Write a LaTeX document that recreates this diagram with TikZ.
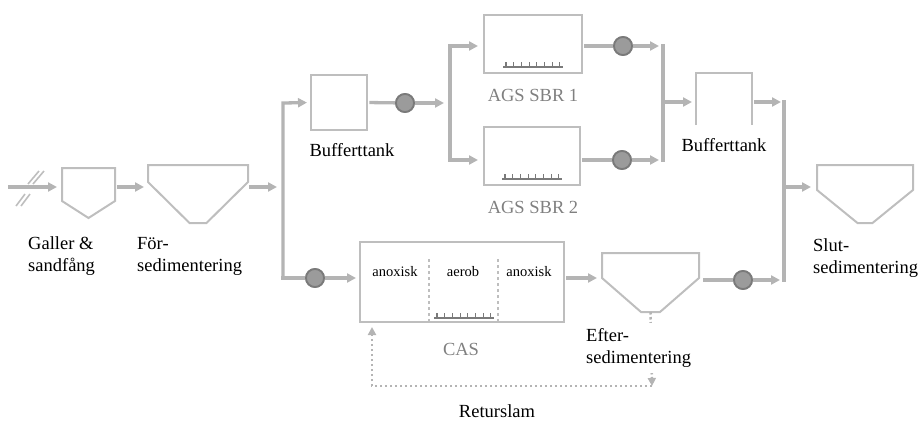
\documentclass[tikz,border=0pt]{standalone}
\usepackage{fontspec}
\setmainfont{Liberation Serif}
\usetikzlibrary{
  arrows.meta,
  positioning,
  calc
}
\definecolor{pipegray}{RGB}{180,180,180}
\definecolor{tankgray}{RGB}{190,190,190}
\definecolor{pumpfill}{RGB}{155,155,155}
\definecolor{pumpedge}{RGB}{122,122,122}
\definecolor{labelgray}{RGB}{128,128,128}
\newcommand{\diffuser}[1]{%
  \draw[diff] ($(#1)+(-30,0)$) -- ($(#1)+(30,0)$);
  \foreach \k in {0,...,7}
    \draw[diff] ($(#1)+({-27+7.7*\k},0)$) -- ++(0,-5);
}

\begin{document}
\begin{tikzpicture}[x=1pt, y=-1pt,
    pipe/.style={draw=pipegray, line width=3.3pt, line cap=rect},
    flow/.style={pipe, -{Triangle[length=9pt, width=9pt]}},
    tank/.style={draw=none, inner sep=0pt, outer sep=0pt},
    box/.style={draw=tankgray, line width=2pt, inner sep=0pt, outer sep=0pt},
    unit/.style={draw=tankgray, line width=2pt},
    pump/.style={circle, draw=pumpedge, fill=pumpfill, line width=1.8pt, minimum size=18pt, inner sep=0pt},
    diff/.style={draw=pumpedge, line width=1.1pt},
    lbl/.style={font=\fontsize{18.5}{22}\selectfont, inner sep=0pt, align=left},
    glbl/.style={lbl, text=labelgray},
    zone/.style={font=\fontsize{14.5}{17}\selectfont, inner sep=0pt},
    retur/.style={draw=pipegray, line width=2.5pt, dash pattern=on 2.5pt off 2.5pt}]
  \useasboundingbox (0,0) rectangle (922,421);

  % Inlet, screen and primary settling
  \node[tank, minimum width=53pt, minimum height=50pt] (galler) at (88.5,193) {};
  \draw[unit] (galler.north west) -- (galler.north east) -- ++(0,33) -- (galler.south)
    -- ($(galler.north west)+(0,33)$) -- cycle;
  \node[tank, minimum width=100pt, minimum height=58pt] (forsed) at (198,194) {};
  \draw[unit] (forsed.north west) -- (forsed.north east) -- ++(0,17) -- ($(forsed.south)+(8.5,0)$)
    -- ($(forsed.south)+(-8.5,0)$) -- ($(forsed.north west)+(0,17)$) -- cycle;

  % AGS line (buffer, two SBRs, buffer)
  \node[box, minimum width=56pt, minimum height=55pt] (buf1) at (339,102.5) {};
  \node[box, minimum width=98pt, minimum height=58pt] (sbr1) at (533,44) {};
  \node[box, minimum width=96pt, minimum height=58pt] (sbr2) at (532,156) {};
  \diffuser{$(sbr1.south)+(0,-6)$}
  \diffuser{$(sbr2.south)+(0,-6)$}
  \node[tank, minimum width=56pt, minimum height=52pt] (buf2) at (724,99) {};
  \draw[unit] (buf2.south west) -- (buf2.north west) -- (buf2.north east) -- (buf2.south east);

  % CAS line
  \node[box, minimum width=204pt, minimum height=80pt] (cas) at (462,282) {};
  \draw[unit, dashed, line width=1.2pt] ($(cas.south west)+(69,0)$) -- ++(0,-64);
  \draw[unit, dashed, line width=1.2pt] ($(cas.south west)+(138,0)$) -- ++(0,-64);
  \diffuser{$(cas.south)+(2,-4)$}
  \node[zone] (anox1) at (395,272) {anoxisk};
  \node[zone] (aerob) at (463,272) {aerob};
  \node[zone] (anox2) at (529,272) {anoxisk};
  \node[tank, minimum width=97pt, minimum height=59pt] (eftsed) at (650.5,282.5) {};
  \draw[unit] (eftsed.north west) -- (eftsed.north east) -- ++(0,25) -- ($(eftsed.south)+(9.5,0)$)
    -- ($(eftsed.south)+(-9.5,0)$) -- ($(eftsed.north west)+(0,25)$) -- cycle;

  % Final settling
  \node[tank, minimum width=96pt, minimum height=58pt] (slutsed) at (865,194) {};
  \draw[unit] (slutsed.north west) -- (slutsed.north east) -- ++(0,25) -- ($(slutsed.south)+(7.5,0)$)
    -- ($(slutsed.south)+(-7.5,0)$) -- ($(slutsed.north west)+(0,25)$) -- cycle;

  % Junctions
  \coordinate (in) at (10,187);
  \coordinate (s1) at (283,187);
  \coordinate (s1t) at (283,103);
  \coordinate (s1b) at (283,278);
  \coordinate (s2t) at (450,103);
  \coordinate (s2a) at (450,46);
  \coordinate (s2b) at (450,160);
  \coordinate (m1a) at (663,46);
  \coordinate (m1b) at (663,160);
  \coordinate (m1c) at (663,102);
  \coordinate (m2a) at (784,102);
  \coordinate (m2c) at (784,187);
  \coordinate (m2b) at (784,280);
  \coordinate (rl) at (372,386);
  \coordinate (rr) at (652,386);

  % Pumps
  \node[pump] (pump0) at (315,278) {};
  \node[pump] (pump1) at (405,103) {};
  \node[pump] (pump2) at (623,46) {};
  \node[pump] (pump3) at (622,160) {};
  \node[pump] (pump4) at (743,280) {};

  % Screen symbol on the inlet
  \draw[draw=tankgray, line width=1.6pt] (16,206) -- (25,194) (28,184) -- (39,171);
  \draw[draw=tankgray, line width=1.6pt] (21,206) -- (30,194) (33,184) -- (44,171);

  % Flow lines
  \draw[flow, shorten >=5pt] (in) -- (in -| galler.west);
  \draw[flow, shorten <=4pt, shorten >=4pt] (in -| galler.east) -- (in -| forsed.west);
  \draw[flow, shorten <=3pt, shorten >=6pt] (in -| forsed.east) -- (s1);
  \draw[flow, shorten >=4pt] (s1b) -- (s1t) -- (buf1.west);
  \draw[pipe] (s1b) -- (pump0);
  \draw[flow, shorten >=4pt] (pump0) -- (cas.west |- pump0);
  \draw[pipe, shorten <=4pt] (buf1.east) -- (pump1);
  \draw[flow, shorten >=6pt] (pump1) -- (s2t);
  \draw[flow, shorten >=6pt] (s2t) -- (s2a) -- (sbr1.west |- s2a);
  \draw[flow, shorten >=6pt] (s2t) -- (s2b) -- (sbr2.west |- s2b);
  \draw[pipe, shorten <=4pt] (sbr1.east |- pump2) -- (pump2);
  \draw[pipe, shorten <=4pt] (sbr2.east |- pump3) -- (pump3);
  \draw[flow, shorten >=4pt] (pump2) -- (m1a);
  \draw[flow, shorten >=4pt] (pump3) -- (m1b);
  \draw[pipe] (m1a) -- (m1b);
  \draw[flow, shorten >=4pt] (m1c) -- (buf2.west |- m1c);
  \draw[flow, shorten <=4pt, shorten >=3pt] (buf2.east |- m1c) -- (m2a);
  \draw[pipe] (m2a) -- (m2b);
  \draw[flow, shorten >=6pt] (m2c) -- (slutsed.west |- m2c);
  \draw[flow, shorten <=4pt, shorten >=5pt] (s1b -| cas.east) -- (s1b -| eftsed.west);
  \draw[pipe, shorten <=6pt] (eftsed.east |- pump4) -- (pump4);
  \draw[flow, shorten >=4pt] (pump4) -- (m2b);
  \foreach \p in {pump0,pump1,pump2,pump3,pump4}
    \node[pump] at (\p) {};

  % Return sludge
  \draw[retur, -{Triangle[length=8pt, width=8pt]}] (eftsed.south) -- (rr);
  \draw[retur, -{Triangle[length=8pt, width=8pt]}, shorten >=5pt] (rr) -- (rl) -- (rl |- cas.south);

  % Labels
  \node[lbl, anchor=west] (galtxt) at (28,256) {Galler \&\\sandfång};
  \node[lbl, anchor=west] (fortxt) at (137,256) {För-\\sedimentering};
  \node[lbl] (buf1txt) at (352,150) {Bufferttank};
  \node[glbl] (sbr1txt) at (533,95) {AGS SBR 1};
  \node[glbl] (sbr2txt) at (533,207) {AGS SBR 2};
  \node[lbl] (buf2txt) at (724,145) {Bufferttank};
  \node[lbl, anchor=west] (slttxt) at (813,258) {Slut-\\sedimentering};
  \node[glbl] (castxt) at (461,349) {CAS};
  \node[lbl, anchor=west, fill=white, inner ysep=5pt] (efttxt) at (586,348) {Efter-\\sedimentering};
  \node[lbl] (rettxt) at (497,411) {Returslam};
\end{tikzpicture}
\end{document}
